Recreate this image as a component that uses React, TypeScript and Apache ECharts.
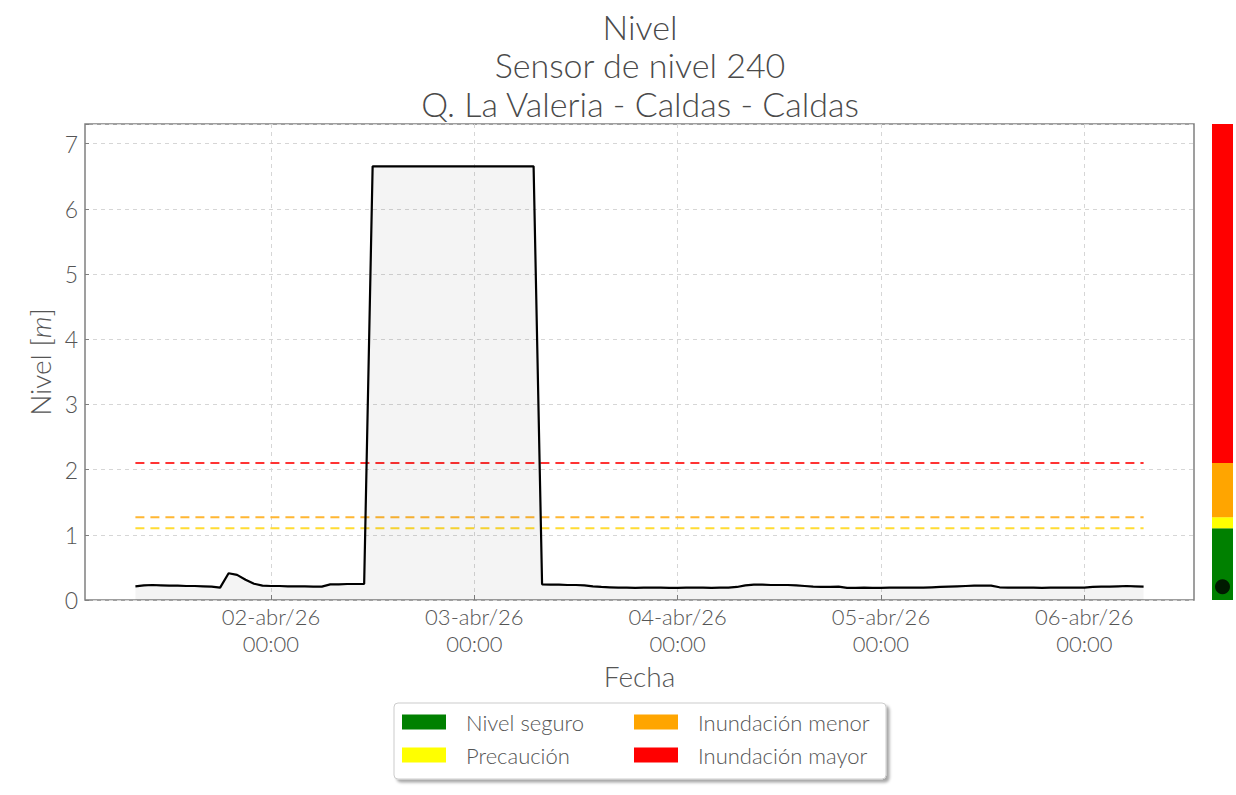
import React, { useEffect, useRef } from "react";
import * as echarts from "echarts";

const FONT = "Lato, 'Open Sans', 'DejaVu Sans', sans-serif";
const TEXT_COLOR = "#555555";
const FW = 300;

const titleLines = ["Nivel", "Sensor de nivel 240", "Q. La Valeria - Caldas - Caldas"];

// hours since 01-abr/26 00:00
const hours = [
  8, 9, 10, 11, 12, 13, 14, 15, 16, 17, 18, 19, 20, 21, 22, 23, 24, 25, 26, 27,
  28, 29, 30, 31, 32, 33, 34, 35, 36, 37, 38, 39, 40, 41, 42, 43, 44, 45, 46, 47,
  48, 49, 50, 51, 52, 53, 54, 55, 56, 57, 58, 59, 60, 61, 62, 63, 64, 65, 66, 67,
  68, 69, 70, 71, 72, 73, 74, 75, 76, 77, 78, 79, 80, 81, 82, 83, 84, 85, 86, 87,
  88, 89, 90, 91, 92, 93, 94, 95, 96, 97, 98, 99, 100, 101, 102, 103, 104, 105, 106, 107,
  108, 109, 110, 111, 112, 113, 114, 115, 116, 117, 118, 119, 120, 121, 122, 123, 124, 125, 126, 127,
];

const levels = [
  0.21, 0.225, 0.23, 0.225, 0.22, 0.22, 0.215, 0.215, 0.21, 0.205, 0.19, 0.41, 0.385, 0.31, 0.25, 0.22, 0.215, 0.215, 0.21, 0.21,
  0.21, 0.205, 0.205, 0.24, 0.24, 0.245, 0.245, 0.245, 6.65, 6.65, 6.65, 6.65, 6.65, 6.65, 6.65, 6.65, 6.65, 6.65, 6.65, 6.65,
  6.65, 6.65, 6.65, 6.65, 6.65, 6.65, 6.65, 6.65, 0.24, 0.235, 0.235, 0.23, 0.23, 0.225, 0.21, 0.2, 0.195, 0.19, 0.19, 0.185,
  0.19, 0.19, 0.19, 0.185, 0.185, 0.19, 0.19, 0.19, 0.185, 0.19, 0.19, 0.2, 0.225, 0.235, 0.235, 0.23, 0.23, 0.23, 0.225, 0.215,
  0.205, 0.2, 0.2, 0.205, 0.185, 0.185, 0.19, 0.185, 0.185, 0.19, 0.19, 0.19, 0.19, 0.19, 0.195, 0.2, 0.205, 0.21, 0.215, 0.22,
  0.22, 0.22, 0.195, 0.19, 0.19, 0.19, 0.19, 0.185, 0.19, 0.19, 0.19, 0.19, 0.19, 0.2, 0.205, 0.205, 0.21, 0.215, 0.21, 0.205,
];

const tickHours = [24, 48, 72, 96, 120];
const tickLabels = ["02-abr/26\n00:00", "03-abr/26\n00:00", "04-abr/26\n00:00", "05-abr/26\n00:00", "06-abr/26\n00:00"];

const thresholdValues = [1.1, 1.27, 2.1];
const thresholdColors = ["#ffdc33", "#ffb733", "#ff3333"];

const bandNames = ["Nivel seguro", "Precaución", "Inundación menor", "Inundación mayor"];
const bandColors = ["#008000", "#ffff00", "#ffa500", "#ff0000"];
const bandTops = [1.1, 1.27, 2.1, 7.3];

const X_MIN = 2.05;
const X_MAX = 132.95;
const Y_MAX = 7.3;

export default function App() {
  const ref = useRef<HTMLDivElement>(null);

  useEffect(() => {
    if (!ref.current) return;
    const chart = echarts.init(ref.current, undefined, { renderer: "svg" });

    const levelData = hours.map((h, i) => [h, levels[i]]);
    const first = hours[0];
    const last = hours[hours.length - 1];

    const thresholdSeries = thresholdValues.map((t, i) => ({
      type: "line",
      xAxisIndex: 0,
      yAxisIndex: 0,
      data: [
        [first, t],
        [last, t],
      ],
      showSymbol: false,
      silent: true,
      z: 2,
      lineStyle: { color: thresholdColors[i], width: 2, type: [9, 6] },
    }));

    const bandSeries = bandNames.map((name, i) => ({
      type: "bar",
      name,
      xAxisIndex: 1,
      yAxisIndex: 1,
      stack: "colorbar",
      barWidth: "100%",
      silent: true,
      data: [bandTops[i] - (i > 0 ? bandTops[i - 1] : 0)],
      itemStyle: { color: bandColors[i] },
    }));

    const legendCommon = {
      orient: "vertical",
      top: 711,
      itemWidth: 44,
      itemHeight: 15,
      itemGap: 11,
      padding: 0,
      icon: "rect",
      selectedMode: false,
      textStyle: {
        fontFamily: FONT,
        fontWeight: FW,
        fontSize: 22,
        lineHeight: 22,
        color: TEXT_COLOR,
        padding: [0, 0, 0, 15],
      },
    };

    const option: any = {
      animation: false,
      backgroundColor: "#ffffff",
      textStyle: { fontFamily: FONT, fontWeight: FW },
      grid: [
        {
          left: 85,
          right: 42,
          top: 124,
          bottom: 195,
          show: true,
          borderColor: "#808080",
          borderWidth: 1.5,
          backgroundColor: "transparent",
        },
        { left: 1212, width: 21, top: 124, bottom: 195 },
      ],
      xAxis: [
        {
          type: "value",
          gridIndex: 0,
          min: X_MIN,
          max: X_MAX,
          axisLine: { show: false },
          axisTick: {
            show: true,
            inside: true,
            length: 5,
            customValues: tickHours,
            lineStyle: { color: "#808080" },
          },
          axisLabel: {
            customValues: tickHours,
            formatter: (v: number) => {
              const idx = tickHours.indexOf(v);
              return idx >= 0 ? tickLabels[idx] : "";
            },
            fontFamily: FONT,
            fontWeight: FW,
            fontSize: 22,
            lineHeight: 27,
            color: TEXT_COLOR,
            margin: 3,
          },
          splitLine: {
            show: true,
            lineStyle: { type: [4, 4], color: "#d6d6d6", width: 1 },
          },
          name: "Fecha",
          nameLocation: "middle",
          nameGap: 61,
          nameTextStyle: { fontFamily: FONT, fontWeight: FW, fontSize: 28, color: TEXT_COLOR },
        },
        { type: "category", gridIndex: 1, data: ["actual"], show: false },
      ],
      yAxis: [
        {
          type: "value",
          gridIndex: 0,
          min: 0,
          max: Y_MAX,
          interval: 1,
          axisLine: { show: false },
          axisTick: { show: true, inside: true, length: 4, lineStyle: { color: "#808080" } },
          axisLabel: {
            formatter: (v: number) => (v > 7.01 ? "" : String(v)),
            fontFamily: FONT,
            fontWeight: FW,
            fontSize: 23,
            color: TEXT_COLOR,
            margin: 7,
          },
          splitLine: {
            show: true,
            lineStyle: { type: [4, 4], color: "#d6d6d6", width: 1 },
          },
          name: "Nivel [{i|m}]",
          nameLocation: "middle",
          nameGap: 30,
          nameTextStyle: {
            fontFamily: FONT,
            fontWeight: FW,
            fontSize: 28,
            color: TEXT_COLOR,
            rich: {
              i: { fontFamily: FONT, fontWeight: FW, fontSize: 28, fontStyle: "italic", color: TEXT_COLOR },
            },
          },
        },
        { type: "value", gridIndex: 1, min: 0, max: Y_MAX, show: false },
      ],
      legend: [
        { ...legendCommon, left: 402, data: [bandNames[0], bandNames[1]] },
        { ...legendCommon, left: 634, data: [bandNames[2], bandNames[3]] },
      ],
      graphic: [
        {
          type: "rect",
          z: 0,
          shape: { x: 394, y: 703, width: 492, height: 76, r: 4 },
          style: {
            fill: "#ffffff",
            stroke: "#cccccc",
            lineWidth: 1,
            shadowBlur: 3,
            shadowOffsetX: 3,
            shadowOffsetY: 3,
            shadowColor: "rgba(0,0,0,0.35)",
          },
        },
        ...titleLines.map((t, i) => ({
          type: "text",
          x: 640,
          y: 26 + i * 38.5,
          style: {
            text: t,
            fontFamily: FONT,
            fontWeight: FW,
            fontSize: 34,
            fill: "#4a4a4a",
            textAlign: "center",
            textVerticalAlign: "middle",
          },
        })),
      ],
      series: [
        ...thresholdSeries,
        {
          type: "line",
          name: "Nivel",
          xAxisIndex: 0,
          yAxisIndex: 0,
          data: levelData,
          showSymbol: false,
          z: 3,
          lineStyle: { color: "#000000", width: 2.2 },
          areaStyle: { color: "rgba(0,0,0,0.06)", origin: "start" },
        },
        ...bandSeries,
        {
          type: "scatter",
          name: "Nivel actual",
          xAxisIndex: 1,
          yAxisIndex: 1,
          data: [[0, levels[levels.length - 1]]],
          symbolSize: 15,
          z: 5,
          silent: true,
          itemStyle: { color: "#000000" },
        },
      ],
    };

    chart.setOption(option);
    return () => chart.dispose();
  }, []);

  return (
    <div
      ref={ref}
      style={{ position: "fixed", left: 0, top: 0, width: 1236, height: 795 }}
    />
  );
}
